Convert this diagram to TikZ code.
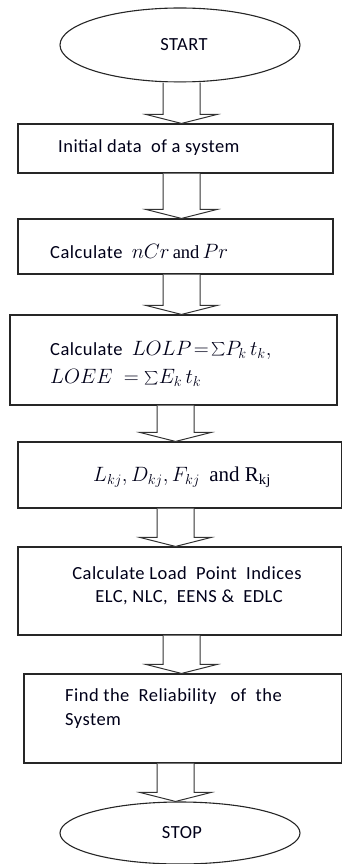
\documentclass[tikz,border=0pt]{standalone}
\usepackage{fontspec}
\setmainfont{Carlito}[LetterSpace=2.5]
\newfontfamily\serifface{Liberation Serif}
\usetikzlibrary{shapes.geometric,calc}
\newcommand{\mymath}[1]{{\fontsize{22}{24}\selectfont$#1$}}
\newcommand{\mysum}{\raisebox{-1.5pt}{\scalebox{1.35}{$\sum$}}}
\begin{document}
\begin{tikzpicture}[x=1pt,y=1pt,
  term/.style={ellipse,draw=black!85,line width=1.1pt,fill=white,inner sep=0pt},
  boxnode/.style={draw=black!85,line width=1.1pt,fill=white,inner sep=0pt},
  txt/.style={inner sep=0pt,anchor=west,text=black!90!blue,font=\fontsize{18.5}{22}\selectfont},
  blk/.style={draw=black!80,line width=1pt,fill=white,line join=miter}]
\useasboundingbox (0,0) rectangle (342,-864);
\newcommand{\mkbox}[5]{\node[boxnode,minimum width={#4-#2},minimum height={#5-#3}] (#1) at ({(#2+#4)/2},{-(#3+#5)/2}) {};}
\newcommand{\blockarr}[3]{%
  \draw[blk] ($(#1.south -| #3)+(-18.5,0)$) -- ($(#2.north -| #3)+(-18.5,9)$) -- ($(#2.north -| #3)+(-35.5,9)$)
   -- (#2.north -| #3) -- ($(#2.north -| #3)+(35.5,9)$) -- ($(#2.north -| #3)+(18.5,9)$) -- ($(#1.south -| #3)+(18.5,0)$);}
\coordinate (xa) at (181.5,0);
\coordinate (xb) at (175.5,0);
% terminals
\node[term,minimum width=240,minimum height=74] (start) at (180,-45) {};
\node[txt,anchor=center] (tstart) at (184,-45) {START};
\mkbox{b1}{18}{124}{333}{173}
\mkbox{b2}{18}{219}{333}{274}
\mkbox{b3}{10}{315}{337}{405}
\mkbox{b4}{18}{442}{341.5}{508}
\mkbox{b5}{18}{547}{341.5}{635}
\mkbox{b6}{24}{674}{341.5}{763}
\node[term,minimum width=240,minimum height=62] (stop) at (180,-833) {};
\node[txt,anchor=center] (tstop) at (182,-833) {STOP};
% texts
\node[txt] (t1) at (58,-148) {Initial data\ \ of a system};
\node[txt] (t2) at (50,-252) {Calculate\ \ \mymath{nCr}{\serifface\,and\,}\mymath{Pr}};
\node[txt] (t3a) at (50,-350) {Calculate\ \ \mymath{LOLP\!=\!\mysum P_k\,t_k,}};
\node[txt] (t3b) at (50,-378) {\mymath{LOEE\ =\mysum E_k\,t_k}};
\node[txt] (t4) at (93,-477) {\mymath{L_{kj}, D_{kj}, F_{kj}}\ \ {\serifface\fontsize{21}{24}\selectfont and R\textsubscript{kj}}};
\node[txt,anchor=center] (t5a) at (187,-573) {Calculate\ Load\ \ Point\ \ Indices};
\node[txt,anchor=center] (t5b) at (189,-597) {ELC, NLC,\ \ EENS \&\ \ EDLC};
\node[txt] (t6a) at (65,-697) {Find the\ \ Reliability\ \ \ of\ \ the};
\node[txt] (t6b) at (65,-721) {System};
% block arrows
\blockarr{start}{b1}{xa}
\blockarr{b1}{b2}{xa}
\blockarr{b2}{b3}{xa}
\blockarr{b3}{b4}{xb}
\blockarr{b4}{b5}{xb}
\blockarr{b5}{b6}{xa}
\blockarr{b6}{stop}{xb}
\end{tikzpicture}
\end{document}
